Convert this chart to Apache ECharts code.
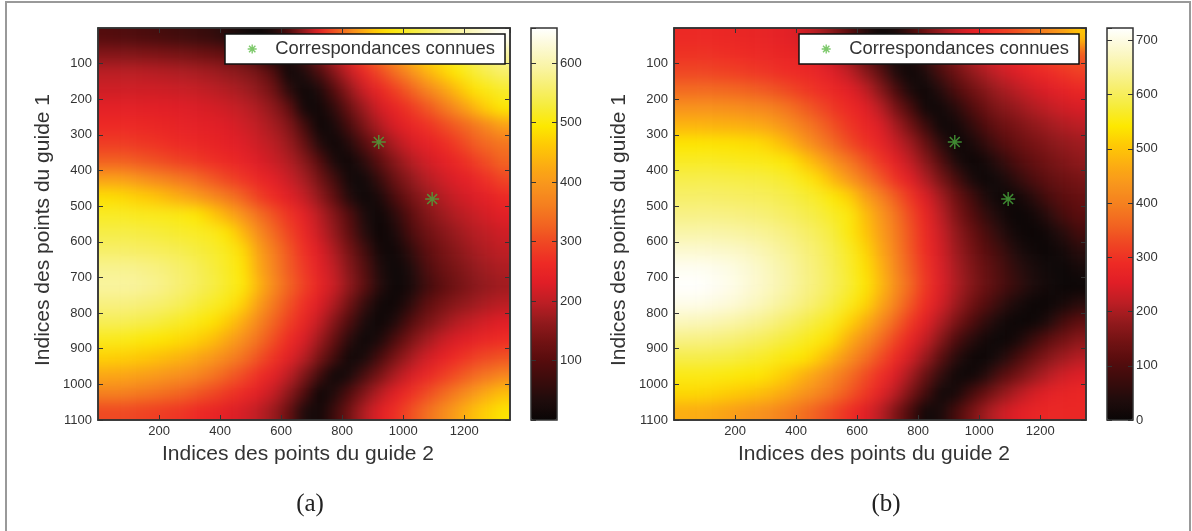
<!DOCTYPE html>
<html><head><meta charset="utf-8">
<style>html,body{margin:0;padding:0;background:#fff}#chart{width:1192px;height:531px}</style>
<script src="https://cdn.jsdelivr.net/npm/echarts@6/dist/echarts.min.js"></script>
</head><body><div id="chart"></div>
<script>
const colCenters = [25,75,125,175,225,275,325,375,425,475,525,575,625,675,725,775,825,875,925,975,1025,1075,1125,1175,1225,1275,1325];
const rowCenters = [25,75,125,175,225,275,325,375,425,475,525,575,625,675,725,775,825,875,925,975,1025,1075];
const valuesA = [
[95,92,88,84,78,72,66,58,40,15,3,30,90,165,240,310,370,430,475,505,525,550,570,590,610,635,655],
[150,150,148,146,142,138,132,124,114,100,55,3,25,85,150,205,255,310,360,405,450,485,510,530,550,570,590],
[195,195,195,193,190,186,181,175,165,152,135,95,5,30,85,150,205,255,300,340,385,430,465,495,520,540,555],
[215,215,216,215,213,210,205,198,190,178,160,130,50,3,30,100,165,215,255,290,325,365,405,445,485,505,520],
[240,240,238,236,234,230,225,220,212,200,185,160,115,12,10,55,125,175,220,250,280,310,345,385,430,470,495],
[262,262,258,254,250,245,240,235,228,215,200,180,150,80,3,25,85,145,190,225,250,270,295,320,345,375,410],
[285,285,280,275,268,260,255,248,240,228,212,195,170,120,40,4,40,100,150,190,220,240,260,285,315,335,350],
[325,325,318,310,300,290,280,270,260,245,228,210,190,155,100,25,6,50,110,155,190,215,235,255,280,305,330],
[410,410,398,380,365,350,335,315,295,275,255,235,210,180,135,75,10,10,65,125,160,190,210,230,245,270,295],
[485,480,470,460,445,425,405,380,355,325,290,265,235,205,165,110,35,3,30,90,135,165,190,210,225,240,260],
[515,515,512,510,508,503,495,465,430,390,345,310,275,240,195,150,95,25,5,50,105,145,170,190,205,220,235],
[535,535,533,530,525,520,515,510,490,440,385,335,295,255,210,165,110,40,2,30,85,125,150,170,190,200,215],
[555,555,553,550,545,540,530,522,510,480,415,360,315,270,230,185,135,75,12,10,55,105,135,155,175,190,200],
[580,580,578,572,565,555,545,530,515,490,425,370,320,280,240,200,150,95,30,3,30,85,120,140,160,175,185],
[590,590,588,582,572,560,548,535,518,498,440,380,330,290,250,210,160,105,40,3,22,70,105,130,150,165,175],
[570,570,568,562,555,545,530,518,505,470,410,355,310,270,230,185,130,60,10,8,50,105,135,155,170,185,195],
[545,545,540,535,525,515,505,490,465,425,375,330,290,250,205,150,90,25,4,35,95,135,165,190,205,220,232],
[510,508,503,497,490,480,470,450,420,385,345,305,265,225,175,115,45,3,30,90,140,175,205,225,240,255,265],
[470,468,462,455,445,435,420,400,375,345,310,275,240,195,140,75,8,22,85,140,180,215,240,265,285,300,310],
[420,418,412,405,395,385,370,350,325,300,270,240,200,145,75,3,25,85,140,185,220,250,280,305,330,350,370],
[365,365,358,350,340,330,315,300,280,260,235,205,160,95,5,35,95,150,195,235,270,300,330,360,395,425,450],
[300,300,295,290,282,275,262,250,235,220,200,170,120,30,12,70,135,190,235,270,305,340,375,410,445,470,490]
];
const valuesB = [
[285,285,283,280,277,273,268,262,240,205,165,115,50,5,22,80,145,185,225,260,285,310,340,375,410,450,500],
[300,300,298,295,290,285,280,275,265,245,215,175,120,55,8,30,80,135,175,215,245,270,285,305,325,340,350],
[325,325,322,318,312,305,298,290,282,270,250,220,175,120,40,3,35,90,140,175,205,230,250,270,285,300,315],
[370,370,368,365,360,352,342,328,310,295,280,260,225,170,100,30,6,45,100,140,170,195,215,235,250,265,280],
[430,430,428,425,420,412,400,380,355,330,305,285,260,215,155,90,10,10,50,100,140,165,185,205,220,235,245],
[480,480,478,475,472,465,450,425,395,365,335,305,280,250,200,145,75,6,18,60,105,135,155,175,190,205,215],
[540,540,538,536,533,528,510,480,440,400,365,330,300,270,230,190,130,55,2,25,65,105,130,150,165,180,190],
[565,565,565,563,560,558,552,545,510,470,425,385,345,305,265,220,170,105,35,3,20,60,100,125,145,160,175],
[590,590,590,588,586,584,578,570,555,525,480,435,390,345,300,255,205,150,90,25,2,20,60,95,120,135,150],
[610,610,610,608,605,602,597,590,578,565,545,515,455,405,355,305,250,195,140,85,30,3,14,50,90,115,130],
[630,630,630,628,625,620,614,605,595,582,565,550,495,440,385,330,275,215,160,110,60,20,2,14,50,90,115],
[655,655,655,652,648,642,635,625,612,598,580,550,505,450,395,340,285,230,180,135,90,45,12,2,14,45,85],
[685,685,683,680,675,665,652,640,625,610,590,565,525,465,405,345,290,240,190,150,110,75,35,10,3,18,50],
[712,712,708,702,692,680,665,650,632,615,595,570,535,480,415,355,300,245,200,160,125,90,55,28,10,2,20],
[722,722,716,708,696,682,668,652,634,618,598,575,545,490,425,365,305,250,205,165,130,95,65,35,15,4,2],
[705,705,700,693,683,670,655,640,624,606,585,560,525,465,405,345,290,240,190,145,105,60,28,6,3,20,50],
[670,668,664,657,648,638,625,610,595,575,560,520,475,420,365,310,260,205,155,105,55,18,4,6,35,85,120],
[630,628,625,620,612,603,592,580,565,550,525,470,425,375,325,275,225,165,100,50,14,2,22,70,115,145,170],
[590,590,588,585,578,570,560,550,540,510,470,425,380,335,290,240,185,115,50,8,4,35,85,130,165,190,210],
[555,555,553,550,545,540,525,505,475,445,410,375,335,295,250,195,130,60,8,6,45,105,145,180,210,235,250],
[525,525,520,512,505,495,480,460,435,410,380,345,310,265,215,155,85,10,22,85,135,175,210,240,262,272,278],
[470,468,462,452,440,428,415,395,375,350,325,295,260,215,160,90,10,25,90,150,195,230,255,270,280,280,280]
];
const knownMatches = [[920,320],[1095,480]];
const colorRamp = ['#0a0606','#1f0c0c','#3a0c0c','#560c0d','#721213','#931a1d','#bd1e24','#e01e26','#ee2a25','#ef4623','#f26521','#f5801f','#f8951d','#fcad12','#fec905','#fde800','#f6ec3a','#f7ef70','#f9f4a4','#fcf9d2','#ffffff'];
const legendName = 'Correspondances connues';
const xName = 'Indices des points du guide 2';
const yName = 'Indices des points du guide 1';
const xRange = [0,1350], yRange = [0,1100];
const barMaxA = 659, barMaxB = 723;

const F = 'Liberation Sans', TC = '#333';
const star = 'path://M12 0V24M0 12H24M3.5 3.5L20.5 20.5M20.5 3.5L3.5 20.5';
const pad = 1;
const cw = 412/colCenters.length, ch = 392/rowCenters.length;
const plain = v => String(v);

function padded(values){
  const out=[];
  for(let r=-pad;r<rowCenters.length+pad;r++){
    const rr=Math.min(rowCenters.length-1,Math.max(0,r));
    for(let c=-pad;c<colCenters.length+pad;c++){
      const cc=Math.min(colCenters.length-1,Math.max(0,c));
      out.push([c+pad,r+pad,values[rr][cc]]);
    }
  }
  return out;
}
const idx = n => Array.from({length:n+2*pad},(_,i)=>String(i));
const panels=[{left:98,bar:531,vals:valuesA,max:barMaxA,legend:225,cap:'(a)',capX:310,showZero:false},
              {left:674,bar:1107,vals:valuesB,max:barMaxB,legend:799,cap:'(b)',capX:886,showZero:true}];
const grid=[],xAxis=[],yAxis=[],series=[],visualMap=[],legend=[],graphic=[];
graphic.push({type:'polyline',zlevel:1,silent:true,shape:{points:[[6,540],[6,2],[1190,2],[1190,540]]},style:{stroke:'#999',lineWidth:2,fill:null}});
panels.forEach((p,i)=>{
  const g0=grid.length;
  grid.push({left:p.left-pad*cw,top:28-pad*ch,width:412+2*pad*cw,height:392+2*pad*ch,show:false,zlevel:0});
  xAxis.push({gridIndex:g0,type:'category',show:false,data:idx(colCenters.length),zlevel:0});
  yAxis.push({gridIndex:g0,type:'category',show:false,inverse:true,data:idx(rowCenters.length),zlevel:0});
  const heatIndex=series.length;
  series.push({type:'heatmap',xAxisIndex:xAxis.length-1,yAxisIndex:yAxis.length-1,data:padded(p.vals),zlevel:0,silent:true,progressive:0,animation:false,itemStyle:{borderWidth:0},emphasis:{disabled:true}});
  visualMap.push({type:'continuous',seriesIndex:heatIndex,dimension:2,min:0,max:p.max,calculable:false,show:true,left:p.bar,top:28,itemWidth:26,itemHeight:392,padding:0,text:null,showLabel:false,zlevel:1,z:1,inRange:{color:colorRamp},realtime:false,hoverLink:false});
  const g1=grid.length;
  grid.push({left:p.left,top:28,width:412,height:392,show:true,borderColor:TC,borderWidth:1.5,backgroundColor:'transparent',zlevel:1,z:3});
  const common={gridIndex:g1,type:'value',zlevel:1,z:4,splitLine:{show:false},axisLine:{show:true,onZero:false,lineStyle:{color:TC,width:1.5}},axisTick:{show:true,inside:true,length:5,lineStyle:{color:TC,width:1}}};
  const xb=xAxis.length;
  xAxis.push({...common,position:'bottom',min:xRange[0],max:xRange[1],interval:200,name:xName,nameLocation:'middle',nameGap:24,nameTextStyle:{fontFamily:F,fontSize:21,color:TC,padding:[0,12,0,0]},axisLabel:{fontFamily:F,fontSize:13,color:TC,margin:5,formatter:plain,showMinLabel:false,showMaxLabel:false}});
  xAxis.push({...common,position:'top',min:xRange[0],max:xRange[1],interval:200,axisLabel:{show:false}});
  const yl=yAxis.length;
  yAxis.push({...common,position:'left',inverse:true,min:yRange[0],max:yRange[1],interval:100,name:yName,nameLocation:'middle',nameGap:44,nameTextStyle:{fontFamily:F,fontSize:21,color:TC,padding:[0,12,0,0]},axisLabel:{fontFamily:F,fontSize:13,color:TC,margin:6,formatter:plain,showMinLabel:false,showMaxLabel:true}});
  yAxis.push({...common,position:'right',inverse:true,min:yRange[0],max:yRange[1],interval:100,axisLabel:{show:false}});
  series.push({type:'scatter',name:legendName,xAxisIndex:xb,yAxisIndex:yl,data:knownMatches,zlevel:1,z:6,symbol:star,symbolSize:14,silent:true,animation:false,itemStyle:{color:'#4aa83c',borderColor:'#4aa83c',borderWidth:1.5}});
  legend.push({show:true,data:[{name:legendName,icon:star}],left:p.legend,top:34,orient:'horizontal',selectedMode:false,zlevel:1,z:8,padding:[6,10,6,22],itemWidth:36,itemHeight:9,backgroundColor:'#fff',borderColor:'#111',borderWidth:1.5,textStyle:{fontFamily:F,fontSize:18.4,color:TC},itemStyle:{color:'#5dbb46',borderColor:'#5dbb46',borderWidth:1.4}});
  const g2=grid.length;
  grid.push({left:p.bar,top:28,width:26,height:392,show:true,borderColor:TC,borderWidth:1.5,backgroundColor:'transparent',zlevel:1,z:6});
  xAxis.push({gridIndex:g2,type:'value',min:0,max:1,show:false,zlevel:1});
  const bar={gridIndex:g2,type:'value',min:0,max:p.max,interval:100,zlevel:1,z:7,splitLine:{show:false},axisLine:{show:false,onZero:false},axisTick:{show:true,inside:true,length:5,lineStyle:{color:TC,width:1}}};
  yAxis.push({...bar,position:'right',axisLabel:{fontFamily:F,fontSize:13,color:TC,margin:3,showMinLabel:p.showZero,showMaxLabel:false}});
  yAxis.push({...bar,position:'left',axisLabel:{show:false}});
  graphic.push({type:'text',zlevel:1,silent:true,x:p.capX,y:504,style:{text:p.cap,font:'25px "Liberation Serif"',fill:'#222',align:'center',verticalAlign:'middle'}});
});
const chart=echarts.init(document.getElementById('chart'),null,{renderer:'canvas'});
chart.setOption({backgroundColor:'transparent',animation:false,grid,xAxis,yAxis,series,visualMap,legend,graphic});
function soften(){
  const c=document.querySelector('#chart canvas[data-zr-dom-id="zr_0"]');
  if(c){c.style.filter='blur(7px)';c.style.clipPath="path('M98 28H510V420H98ZM674 28H1086V420H674Z')";}
}
soften();chart.on('finished',soften);
</script></body></html>
